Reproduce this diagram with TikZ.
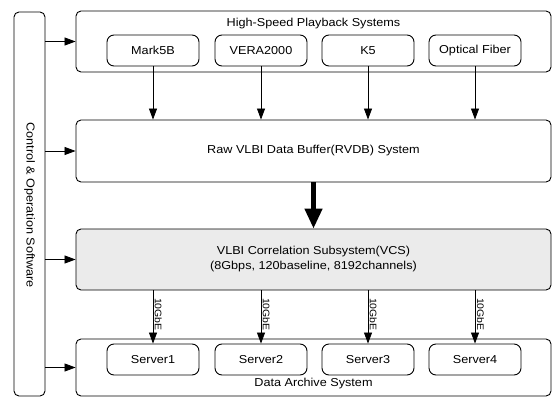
\documentclass[tikz,border=0pt]{standalone}
\usepackage{fontspec}
\setmainfont{Liberation Sans}[FakeStretch=1.1]
\usetikzlibrary{arrows.meta}
\begin{document}
\begin{tikzpicture}[x=1pt,y=-1pt,
  font=\fontsize{11.5}{13}\selectfont,
  bigbox/.style={draw, rounded corners=5pt, line width=0.9pt, minimum width=475pt, inner sep=0pt},
  subbox/.style={draw, rounded corners=7pt, line width=0.9pt, minimum width=92pt, minimum height=31pt, inner sep=0pt},
  arr/.style={-{Triangle[length=11pt,width=8pt]}, line width=0.8pt},
  thick arr/.style={-{Triangle[length=20pt,width=17pt]}, line width=4.5pt},
  lbl/.style={font=\fontsize{9.5}{11}\selectfont, rotate=-90, anchor=south, inner sep=1.5pt}]
\useasboundingbox (0,0) rectangle (553,398);
% control box
\node[draw, rounded corners=5pt, line width=0.9pt, minimum width=31pt, minimum height=384pt, inner sep=0pt] (ctrl) at (29.5,204) {};
\node[rotate=-90] (ctrltxt) at (29.5,205) {Control \& Operation Software};
% top box
\node[bigbox, minimum height=61pt] (top) at (313.5,41.5) {};
\node (toptxt) at (313.5,24) {High-Speed Playback Systems};
\node[subbox] (m5) at (153,50.5) {Mark5B};
\node[subbox] (vera) at (261,50.5) {VERA2000};
\node[subbox] (k5) at (368,50.5) {K5};
\node[subbox] (opt) at (475,50.5) {Optical Fiber};
% RVDB
\node[bigbox, minimum height=62pt] (rvdb) at (313.5,151) {Raw VLBI Data Buffer(RVDB) System};
% VCS
\node[bigbox, minimum height=61pt, fill=gray!16, align=center] (vcs) at (313.5,259.5) {VLBI Correlation Subsystem(VCS)\\[2pt](8Gbps, 120baseline, 8192channels)};
% archive
\node[bigbox, minimum height=57pt] (arch) at (313.5,367.5) {};
\node (archtxt) at (313.5,384) {Data Archive System};
\node[subbox] (s1) at (153,359.5) {Server1};
\node[subbox] (s2) at (261,359.5) {Server2};
\node[subbox] (s3) at (368,359.5) {Server3};
\node[subbox] (s4) at (475,359.5) {Server4};
% control arrows
\draw[arr] (ctrl.east |- top.west) -- (top.west);
\draw[arr] (ctrl.east |- rvdb.west) -- (rvdb.west);
\draw[arr] (ctrl.east |- vcs.west) -- (vcs.west);
\draw[arr] (ctrl.east |- arch.west) -- (arch.west);
% playback to RVDB
\foreach \n in {m5,vera,k5,opt}{
  \draw[arr] (\n.south) -- (\n.south |- rvdb.north);
}
% RVDB to VCS
\draw[thick arr] (rvdb.south) -- (vcs.north);
% VCS to servers
\foreach \n in {s1,s2,s3,s4}{
  \draw[arr] (vcs.south -| \n.north) -- node[lbl, pos=0.45]{10GbE} (\n.north);
}
\end{tikzpicture}
\end{document}
